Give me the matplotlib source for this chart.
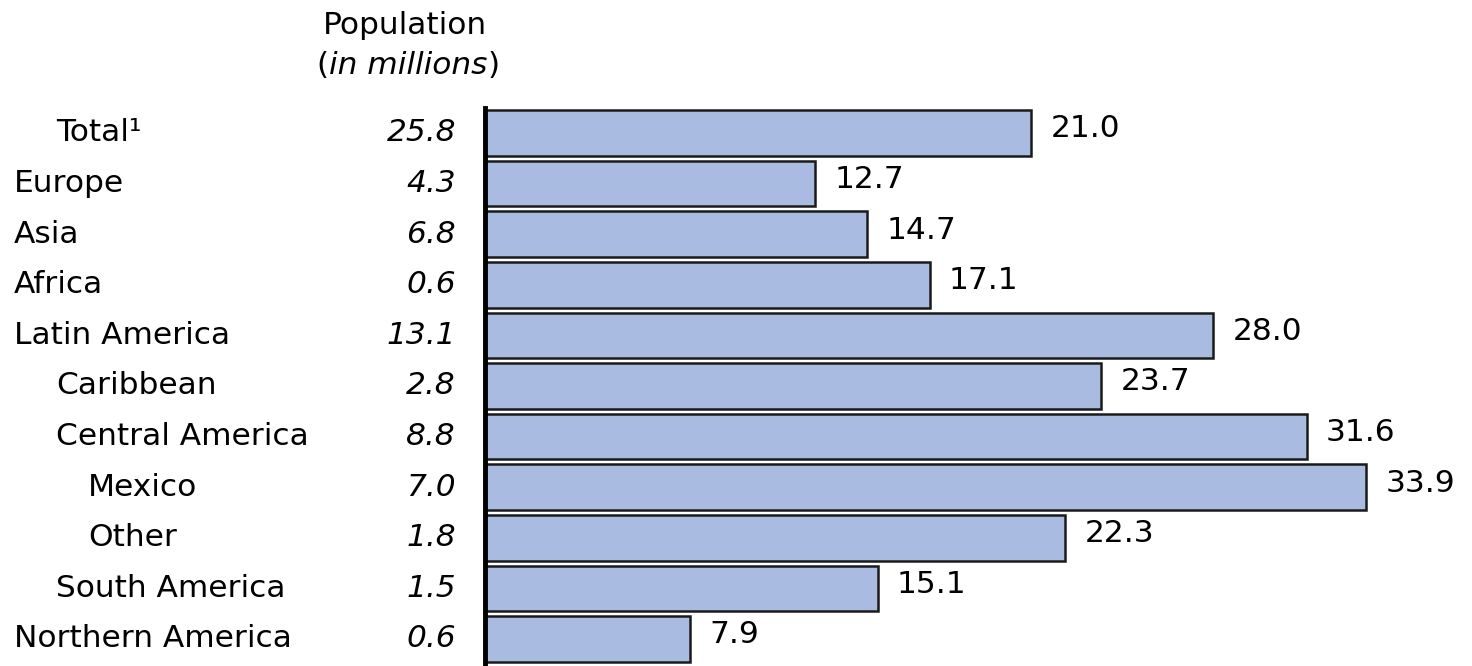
import matplotlib
matplotlib.use("Agg")
import matplotlib.pyplot as plt
from matplotlib.transforms import blended_transform_factory

# Regions of origin, their nesting depth, population (millions) and share (%)
regions = ["Total\u00b9", "Europe", "Asia", "Africa", "Latin America",
           "Caribbean", "Central America", "Mexico", "Other",
           "South America", "Northern America"]
levels = [1, 0, 0, 0, 0, 1, 1, 2, 2, 1, 0]
population = ["25.8", "4.3", "6.8", "0.6", "13.1", "2.8", "8.8",
              "7.0", "1.8", "1.5", "0.6"]
percent = [21.0, 12.7, 14.7, 17.1, 28.0, 23.7, 31.6, 33.9, 22.3, 15.1, 7.9]

FONT = "DejaVu Sans"
SIZE = 22.5
BAR_COLOR = "#A9BBE0"

W, H = 1472, 666
fig = plt.figure(figsize=(W / 100, H / 100), dpi=100)
ax = fig.add_axes([485 / W, 0, 1 - 485 / W, (H - 108) / H])

ypos = list(range(len(regions)))
ax.barh(ypos, percent, height=0.9, color=BAR_COLOR,
        edgecolor="#1a1a1a", linewidth=1.8, zorder=2)
ax.set_xlim(0, 37.96)
ax.set_ylim(10.534, -0.494)

for s in ("top", "right", "bottom"):
    ax.spines[s].set_visible(False)
ax.spines["left"].set_linewidth(3.5)
ax.spines["left"].set_color("black")
ax.spines["left"].set_zorder(3)
ax.set_xticks([])
ax.set_yticks([])

# value labels to the right of each bar
for y, v in zip(ypos, percent):
    ax.annotate(f"{v:.1f}", xy=(v, y), xytext=(14, 3), textcoords="offset points",
                va="center", ha="left", family=FONT, fontsize=SIZE)

# region names with indentation, and italic population column
trans = blended_transform_factory(fig.transFigure, ax.transData)
indent_px = [14, 56, 88]
for y, name, lvl, pop in zip(ypos, regions, levels, population):
    ax.text(indent_px[lvl] / W, y, name, transform=trans, ha="left",
            va="center", family=FONT, fontsize=SIZE, clip_on=False)
    ax.text(456 / W, y, pop, transform=trans, ha="right", va="center",
            family=FONT, fontsize=SIZE, style="italic", clip_on=False)

# column header
fig.text(405 / W, 1 - 25 / H, "Population", ha="center", va="center",
         family=FONT, fontsize=SIZE)
hdr = fig.text(408 / W, 1 - 66 / H, "(in millions)", ha="center", va="center",
               family=FONT, fontsize=SIZE, alpha=0)
# subtitle: upright parentheses around an italic phrase
fig.canvas.draw()
r = fig.canvas.get_renderer()
x0 = hdr.get_window_extent(r).x0
t1 = fig.text(x0 / W, 1 - 66 / H, "(", ha="left", va="center",
              family=FONT, fontsize=SIZE)
x1 = t1.get_window_extent(r).x1
t2 = fig.text(x1 / W, 1 - 66 / H, "in millions", ha="left", va="center",
              family=FONT, fontsize=SIZE, style="italic")
x2 = t2.get_window_extent(r).x1
fig.text(x2 / W, 1 - 66 / H, ")", ha="left", va="center",
         family=FONT, fontsize=SIZE)

fig.savefig("out.png", dpi=100, facecolor="white")
